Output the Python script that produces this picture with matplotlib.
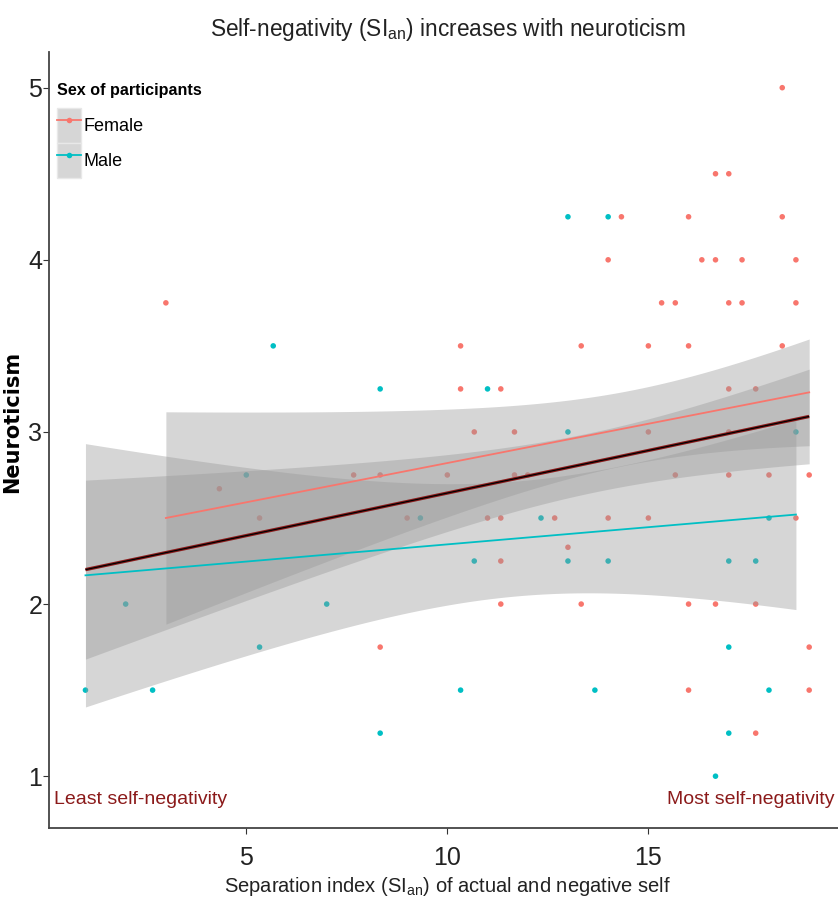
import numpy as np
import matplotlib
matplotlib.use("Agg")
import matplotlib.pyplot as plt
from matplotlib.lines import Line2D
from matplotlib.patches import Patch

# ---- observations: separation index (SI_an) vs neuroticism, by sex ----
female_si = [3, 18.33, 16.67, 17, 14.33, 16, 18.33, 14, 16.33, 16.67, 17.33, 18.67,
             15.33, 15.67, 17, 17.33, 18.67, 10.33, 13.33, 15, 16, 18.33,
             10.33, 11.33, 17, 17.67, 10.67, 11.67, 15, 17,
             4.33, 7.67, 8.33, 10, 11.67, 12, 15.67, 17, 18, 19,
             5.33, 9, 11, 11.33, 12.67, 14, 15, 18.67, 13, 11.33,
             11.33, 13.33, 16, 16.67, 17.67, 8.33, 19, 16, 19, 17.67]
female_neuro = [3.75, 5, 4.5, 4.5, 4.25, 4.25, 4.25, 4, 4, 4, 4, 4,
                3.75, 3.75, 3.75, 3.75, 3.75, 3.5, 3.5, 3.5, 3.5, 3.5,
                3.25, 3.25, 3.25, 3.25, 3, 3, 3, 3,
                2.67, 2.75, 2.75, 2.75, 2.75, 2.75, 2.75, 2.75, 2.75, 2.75,
                2.5, 2.5, 2.5, 2.5, 2.5, 2.5, 2.5, 2.5, 2.33, 2.25,
                2, 2, 2, 2, 2, 1.75, 1.75, 1.5, 1.5, 1.25]

male_si = [5.67, 8.33, 11, 13, 14, 13, 18.67, 5, 9.33, 12.33, 18,
           10.67, 13, 14, 17, 17.67, 2, 7, 5.33, 17,
           1, 2.67, 10.33, 13.67, 18, 8.33, 17, 16.67]
male_neuro = [3.5, 3.25, 3.25, 4.25, 4.25, 3, 3, 2.75, 2.5, 2.5, 2.5,
              2.25, 2.25, 2.25, 2.25, 2.25, 2, 2, 1.75, 1.75,
              1.5, 1.5, 1.5, 1.5, 1.5, 1.25, 1.25, 1]

# ---- linear fits: fitted neuroticism at the two ends of each SI range ----
female_fit_ends = [2.50, 3.23]
male_fit_ends = [2.167, 2.52]
pooled_fit_ends = [2.20, 3.09]

# ---- 95% confidence band half-widths at (start, inside, end) of each range ----
female_band_at = [3, 14.5, 19]
female_band_half = [0.617, 0.215, 0.31]
male_band_at = [1, 12.5, 18.67]
male_band_half = [0.765, 0.337, 0.552]
pooled_band_at = [1, 13.5, 19]
pooled_band_half = [0.52, 0.175, 0.275]

sex_labels = ["Female", "Male"]
sex_colors = ["#F8766D", "#00BFC4"]
x_ticks = [5, 10, 15]
y_ticks = [1, 2, 3, 4, 5]

SANS = ["Liberation Sans", "DejaVu Sans"]
plt.rcParams["font.family"] = SANS
plt.rcParams["mathtext.fontset"] = "custom"
plt.rcParams["mathtext.rm"] = "Liberation Sans"


def smooth(xs, fit_ends, band_at, band_half, n_grid=120):
    """Straight fit line plus a confidence band whose squared half-width is
    quadratic in x (the shape of an OLS mean-response band)."""
    x0, x1 = min(xs), max(xs)
    gx = np.linspace(x0, x1, n_grid)
    line = np.polyfit([x0, x1], fit_ends, 1)
    fit = np.polyval(line, gx)
    h2 = np.polyfit(band_at, np.square(band_half), 2)
    half = np.sqrt(np.clip(np.polyval(h2, gx), 0, None))
    return gx, fit, fit - half, fit + half


fig = plt.figure(figsize=(8.38, 8.99), dpi=100)
ax = fig.add_axes([0.0588, 0.0786, 0.950, 0.8631])

# points first, so the grey ribbons sit over them
for xs, ys, col in [(female_si, female_neuro, sex_colors[0]),
                    (male_si, male_neuro, sex_colors[1])]:
    ax.scatter(xs, ys, s=16, color=col, edgecolors="none", zorder=1)

ribbon_kw = dict(color="#999999", alpha=0.4, linewidth=0, zorder=2)

for xs, ends, b_at, b_half, col in [
        (female_si, female_fit_ends, female_band_at, female_band_half, sex_colors[0]),
        (male_si, male_fit_ends, male_band_at, male_band_half, sex_colors[1])]:
    gx, fit, lo, hi = smooth(xs, ends, b_at, b_half)
    ax.fill_between(gx, lo, hi, **ribbon_kw)
    ax.plot(gx, fit, color=col, lw=1.3, zorder=3)

gx, fit, lo, hi = smooth(female_si + male_si, pooled_fit_ends,
                         pooled_band_at, pooled_band_half)
ax.fill_between(gx, lo, hi, **ribbon_kw)
ax.plot(gx, fit, color="#8B1A1A", lw=2.4, zorder=4, solid_capstyle="butt")
ax.plot(gx, fit, color="black", lw=0.9, zorder=5, solid_capstyle="butt")

ax.set_xlim(0.1, 19.9)
ax.set_ylim(0.697, 5.205)
ax.set_xticks(x_ticks)
ax.set_yticks(y_ticks)
ax.tick_params(labelsize=18, length=4, width=0.8, colors="#333333",
               labelcolor="#222222")
ax.tick_params(axis="x", pad=9)
ax.tick_params(axis="y", pad=1)
for side in ("top", "right"):
    ax.spines[side].set_visible(False)
for side in ("left", "bottom"):
    ax.spines[side].set_color("#444444")
    ax.spines[side].set_linewidth(1.3)

ax.set_xlabel("Separation index (SI$_\\mathrm{an}$) of actual and negative self",
              fontsize=14.5, color="#222222", labelpad=3)
ax.set_ylabel("Neuroticism", fontsize=15, fontweight="bold",
              family=["DejaVu Sans"], color="black")
ax.yaxis.set_label_coords(-0.034, 0.524)
ax.set_title("Self-negativity (SI$_\\mathrm{an}$) increases with neuroticism",
             fontsize=16.3, color="#222222", pad=12)

# end-of-scale annotations
ax.text(0.22, 0.865, "Least self-negativity", color="#8B1A1A", fontsize=14,
        ha="left", va="center")
ax.text(19.62, 0.865, "Most self-negativity", color="#8B1A1A", fontsize=14,
        ha="right", va="center")

# legend: grey ribbon key with coloured line and point
handles = []
for col in sex_colors:
    patch = Patch(facecolor="#d6d6d6", edgecolor="#e8e8e8", linewidth=1)
    line = Line2D([], [], color=col, lw=1.3, marker="o", markersize=4,
                  markeredgewidth=0)
    handles.append((patch, line))
leg = ax.legend(handles, sex_labels, title="Sex of participants",
                loc="upper left", bbox_to_anchor=(0.0097, 0.96),
                frameon=False, fontsize=13, title_fontsize=11.6,
                handlelength=1.35, handleheight=2.6, handletextpad=0.12,
                labelspacing=0.0, borderaxespad=0.0, borderpad=0.0)
leg.get_title().set_fontweight("bold")
leg._legend_box.align = "left"
leg._legend_box.sep = 7

fig.savefig("out.png", dpi=100)
